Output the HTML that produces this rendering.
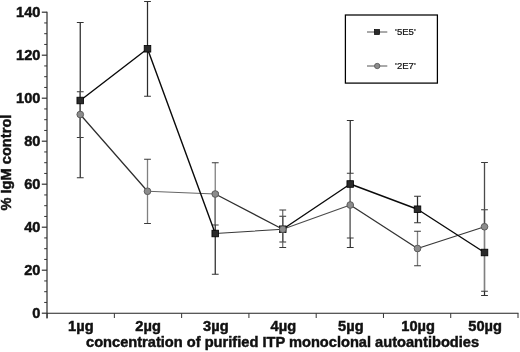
<!DOCTYPE html><html><head><meta charset="utf-8"><style>
html,body{margin:0;padding:0;background:#fff}body{width:520px;height:352px;overflow:hidden}svg{display:block;filter:grayscale(1)}text{font-family:"Liberation Sans",sans-serif}.b{font-weight:bold;font-size:14px;fill:#111;stroke:#111;stroke-width:0.45px}.l{font-size:9px;fill:#111;stroke:#111;stroke-width:0.2px}
</style></head><body><svg width="520" height="352" viewBox="0 0 520 352">
<rect width="520" height="352" fill="#fff"/>
<g stroke="#333" stroke-width="1.2" fill="none">
<path d="M47 11.70V318.5" stroke="#4a4a4a" stroke-width="1.4"/><path d="M47 313.3H518.5" stroke="#222" stroke-width="1.1"/>
<path d="M41.8 313.20H47"/>
<path d="M41.8 270.20H47"/>
<path d="M41.8 227.20H47"/>
<path d="M41.8 184.20H47"/>
<path d="M41.8 141.20H47"/>
<path d="M41.8 98.20H47"/>
<path d="M41.8 55.20H47"/>
<path d="M41.8 12.20H47"/>
<path d="M44.2 302.45H47" stroke-width="1"/>
<path d="M44.2 291.70H47" stroke-width="1"/>
<path d="M44.2 280.95H47" stroke-width="1"/>
<path d="M44.2 259.45H47" stroke-width="1"/>
<path d="M44.2 248.70H47" stroke-width="1"/>
<path d="M44.2 237.95H47" stroke-width="1"/>
<path d="M44.2 216.45H47" stroke-width="1"/>
<path d="M44.2 205.70H47" stroke-width="1"/>
<path d="M44.2 194.95H47" stroke-width="1"/>
<path d="M44.2 173.45H47" stroke-width="1"/>
<path d="M44.2 162.70H47" stroke-width="1"/>
<path d="M44.2 151.95H47" stroke-width="1"/>
<path d="M44.2 130.45H47" stroke-width="1"/>
<path d="M44.2 119.70H47" stroke-width="1"/>
<path d="M44.2 108.95H47" stroke-width="1"/>
<path d="M44.2 87.45H47" stroke-width="1"/>
<path d="M44.2 76.70H47" stroke-width="1"/>
<path d="M44.2 65.95H47" stroke-width="1"/>
<path d="M44.2 44.45H47" stroke-width="1"/>
<path d="M44.2 33.70H47" stroke-width="1"/>
<path d="M44.2 22.95H47" stroke-width="1"/>
<path d="M47.10 313.3V318" stroke-width="1"/>
<path d="M114.37 313.3V318" stroke-width="1"/>
<path d="M181.64 313.3V318" stroke-width="1"/>
<path d="M248.91 313.3V318" stroke-width="1"/>
<path d="M316.19 313.3V318" stroke-width="1"/>
<path d="M383.46 313.3V318" stroke-width="1"/>
<path d="M450.73 313.3V318" stroke-width="1"/>
<path d="M518.00 313.3V318" stroke-width="1"/>
</g>
<path d="M80.25 22.5V177.75" stroke="#2c2c2c" stroke-width="1.25" fill="none"/><path d="M76.85 22.5H83.65M76.85 177.75H83.65" stroke="#333" stroke-width="1.1" fill="none"/>
<path d="M147.5 1.5V96.25" stroke="#2c2c2c" stroke-width="1.25" fill="none"/><path d="M144.1 1.5H150.9M144.1 96.25H150.9" stroke="#333" stroke-width="1.1" fill="none"/>
<path d="M215.25 192.75V274.25" stroke="#2c2c2c" stroke-width="1.25" fill="none"/><path d="M211.85 192.75H218.65M211.85 274.25H218.65" stroke="#333" stroke-width="1.1" fill="none"/>
<path d="M282.75 216.25V242" stroke="#2c2c2c" stroke-width="1.25" fill="none"/><path d="M279.35 216.25H286.15M279.35 242H286.15" stroke="#333" stroke-width="1.1" fill="none"/>
<path d="M350.25 120.5V247.5" stroke="#2c2c2c" stroke-width="1.25" fill="none"/><path d="M346.85 120.5H353.65M346.85 247.5H353.65" stroke="#333" stroke-width="1.1" fill="none"/>
<path d="M417.5 196.25V222.75" stroke="#2c2c2c" stroke-width="1.25" fill="none"/><path d="M414.1 196.25H420.9M414.1 222.75H420.9" stroke="#333" stroke-width="1.1" fill="none"/>
<path d="M484.5 209.75V295.5" stroke="#2c2c2c" stroke-width="1.25" fill="none"/><path d="M481.1 209.75H487.9M481.1 295.5H487.9" stroke="#333" stroke-width="1.1" fill="none"/>
<path d="M80.25 91.75V137.5" stroke="#808080" stroke-width="1.3" fill="none"/><path d="M76.85 91.75H83.65M76.85 137.5H83.65" stroke="#3a3a3a" stroke-width="1.1" fill="none"/>
<path d="M147.5 159.25V223.5" stroke="#808080" stroke-width="1.3" fill="none"/><path d="M144.1 159.25H150.9M144.1 223.5H150.9" stroke="#3a3a3a" stroke-width="1.1" fill="none"/>
<path d="M215.25 162.75V225" stroke="#808080" stroke-width="1.3" fill="none"/><path d="M211.85 162.75H218.65M211.85 225H218.65" stroke="#3a3a3a" stroke-width="1.1" fill="none"/>
<path d="M282.75 210V247.5" stroke="#5c5c5c" stroke-width="1.1" fill="none"/><path d="M279.35 210H286.15M279.35 247.5H286.15" stroke="#3a3a3a" stroke-width="1.1" fill="none"/>
<path d="M350.25 173.25V238" stroke="#808080" stroke-width="1.3" fill="none"/><path d="M346.85 173.25H353.65M346.85 238H353.65" stroke="#3a3a3a" stroke-width="1.1" fill="none"/>
<path d="M417.5 231.25V265.75" stroke="#808080" stroke-width="1.3" fill="none"/><path d="M414.1 231.25H420.9M414.1 265.75H420.9" stroke="#3a3a3a" stroke-width="1.1" fill="none"/>
<path d="M484.5 162.5V291.25" stroke="#808080" stroke-width="1.3" fill="none"/><path d="M481.1 162.5H487.9M481.1 291.25H487.9" stroke="#3a3a3a" stroke-width="1.1" fill="none"/>
<path d="M484.5 162.5V226.75" stroke="#4a4a4a" stroke-width="1.1" fill="none"/>
<path d="M80.25 91.75V137.5" stroke="#5a5a5a" stroke-width="1.3" fill="none"/>
<path d="M80.25 114.5L147.5 191.25" stroke="#2e2e2e" stroke-width="1.25" fill="none" stroke-linecap="round"/>
<path d="M147.5 191.25L215.25 194" stroke="#666" stroke-width="1.0" fill="none" stroke-linecap="round"/>
<path d="M215.25 194L282.75 229.25" stroke="#2e2e2e" stroke-width="1.25" fill="none" stroke-linecap="round"/>
<path d="M282.75 229.25L350.25 205" stroke="#4a4a4a" stroke-width="1.1" fill="none" stroke-linecap="round"/>
<path d="M350.25 205L417.5 248.5" stroke="#333" stroke-width="1.3" fill="none" stroke-linecap="round"/>
<path d="M417.5 248.5L484.5 226.75" stroke="#383838" stroke-width="1.25" fill="none" stroke-linecap="round"/>
<path d="M80.25 100.5L147.5 48.75" stroke="#0a0a0a" stroke-width="1.4" fill="none" stroke-linecap="round"/>
<path d="M147.5 48.75L215.25 233.5" stroke="#0a0a0a" stroke-width="1.4" fill="none" stroke-linecap="round"/>
<path d="M215.25 233.5L282.75 229.25" stroke="#383838" stroke-width="1.1" fill="none" stroke-linecap="round"/>
<path d="M282.75 229.25L350.25 184" stroke="#0a0a0a" stroke-width="1.4" fill="none" stroke-linecap="round"/>
<path d="M350.25 184L417.5 209.25" stroke="#0a0a0a" stroke-width="1.4" fill="none" stroke-linecap="round"/>
<path d="M417.5 209.25L484.5 252.5" stroke="#0a0a0a" stroke-width="1.4" fill="none" stroke-linecap="round"/>
<rect x="76.95" y="97.20" width="6.6" height="6.6" fill="#2a2a2a" stroke="#000" stroke-width="0.8"/>
<rect x="144.20" y="45.45" width="6.6" height="6.6" fill="#2a2a2a" stroke="#000" stroke-width="0.8"/>
<rect x="211.95" y="230.20" width="6.6" height="6.6" fill="#2a2a2a" stroke="#000" stroke-width="0.8"/>
<rect x="279.45" y="225.95" width="6.6" height="6.6" fill="#2a2a2a" stroke="#000" stroke-width="0.8"/>
<rect x="346.95" y="180.70" width="6.6" height="6.6" fill="#2a2a2a" stroke="#000" stroke-width="0.8"/>
<rect x="414.20" y="205.95" width="6.6" height="6.6" fill="#2a2a2a" stroke="#000" stroke-width="0.8"/>
<rect x="481.20" y="249.20" width="6.6" height="6.6" fill="#2a2a2a" stroke="#000" stroke-width="0.8"/>
<circle cx="80.25" cy="114.5" r="3.35" fill="#8c8c8c" stroke="#555" stroke-width="0.9"/>
<circle cx="147.5" cy="191.25" r="3.35" fill="#8c8c8c" stroke="#555" stroke-width="0.9"/>
<circle cx="215.25" cy="194" r="3.35" fill="#8c8c8c" stroke="#555" stroke-width="0.9"/>
<circle cx="282.75" cy="229.25" r="3.35" fill="#8c8c8c" stroke="#555" stroke-width="0.9"/>
<circle cx="350.25" cy="205" r="3.35" fill="#8c8c8c" stroke="#555" stroke-width="0.9"/>
<circle cx="417.5" cy="248.5" r="3.35" fill="#8c8c8c" stroke="#555" stroke-width="0.9"/>
<circle cx="484.5" cy="226.75" r="3.35" fill="#8c8c8c" stroke="#555" stroke-width="0.9"/>
<rect x="345.4" y="15" width="92.0" height="68.1" fill="#fff" stroke="#000" stroke-width="1.25"/>
<path d="M367 32H387.3" stroke="#555" stroke-width="1"/><rect x="374.5" y="29.5" width="5.0" height="5.0" fill="#2a2a2a" stroke="#000" stroke-width="0.7"/>
<path d="M367 66H387.3" stroke="#555" stroke-width="1"/><circle cx="377.2" cy="66" r="2.7" fill="#8c8c8c" stroke="#555" stroke-width="0.8"/>
<text class="l" transform="translate(395.10 35.20) scale(1.06 1)" text-anchor="start" >'5E5'</text>
<text class="l" transform="translate(395.10 69.40) scale(1.06 1)" text-anchor="start" >'2E7'</text>
<text class="b" transform="translate(40.50 317.65) scale(1.046 1)" text-anchor="end" >0</text>
<text class="b" transform="translate(40.50 274.65) scale(1.046 1)" text-anchor="end" >20</text>
<text class="b" transform="translate(40.50 231.65) scale(1.046 1)" text-anchor="end" >40</text>
<text class="b" transform="translate(40.50 188.65) scale(1.046 1)" text-anchor="end" >60</text>
<text class="b" transform="translate(40.50 145.65) scale(1.046 1)" text-anchor="end" >80</text>
<text class="b" transform="translate(40.50 102.65) scale(1.046 1)" text-anchor="end" >100</text>
<text class="b" transform="translate(40.50 59.65) scale(1.046 1)" text-anchor="end" >120</text>
<text class="b" transform="translate(40.50 16.65) scale(1.046 1)" text-anchor="end" >140</text>
<text class="b" transform="translate(80.85 331.30) scale(1.046 1)" text-anchor="middle" >1µg</text>
<text class="b" transform="translate(148.10 331.30) scale(1.046 1)" text-anchor="middle" >2µg</text>
<text class="b" transform="translate(215.85 331.30) scale(1.046 1)" text-anchor="middle" >3µg</text>
<text class="b" transform="translate(283.35 331.30) scale(1.046 1)" text-anchor="middle" >4µg</text>
<text class="b" transform="translate(350.85 331.30) scale(1.046 1)" text-anchor="middle" >5µg</text>
<text class="b" transform="translate(418.10 331.30) scale(1.046 1)" text-anchor="middle" >10µg</text>
<text class="b" transform="translate(485.10 331.30) scale(1.046 1)" text-anchor="middle" >50µg</text>
<text class="b" transform="translate(86.00 347.25) scale(1.046 1)" text-anchor="start" >concentration of purified ITP monoclonal autoantibodies</text>
<text class="b" transform="translate(11 162.6) rotate(-90)" text-anchor="middle" style="font-size:14.65px">% IgM control</text>
</svg></body></html>
